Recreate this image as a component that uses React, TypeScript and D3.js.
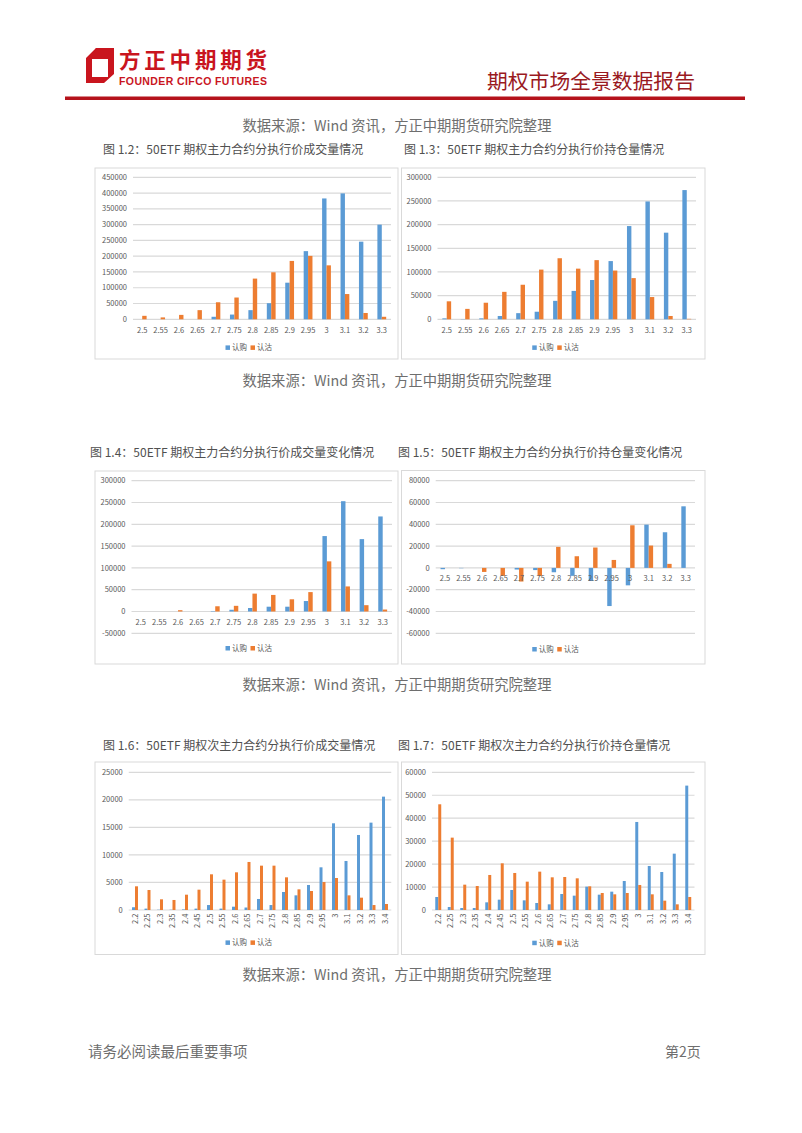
import React from "react";
import * as d3 from "d3";

const strikesMain = ["2.5","2.55","2.6","2.65","2.7","2.75","2.8","2.85","2.9","2.95","3","3.1","3.2","3.3"];
const strikesSub = ["2.2","2.25","2.3","2.35","2.4","2.45","2.5","2.55","2.6","2.65","2.7","2.75","2.8","2.85","2.9","2.95","3","3.1","3.2","3.3","3.4"];

// Fig 1.2 main contract volume
const volMainCall = [0,0,0,0,8000,15000,29000,51000,116000,216000,383000,399000,246000,300000];
const volMainPut = [11000,6000,14000,29000,54000,69000,129000,149000,185000,201000,171000,80000,20000,8000];
// Fig 1.3 main contract open interest
const oiMainCall = [2000,500,2000,7000,13000,16000,39000,60000,83000,123000,197000,249000,183000,273000];
const oiMainPut = [38000,22000,35000,58000,73000,105000,129000,107000,125000,103000,87000,47000,7000,1000];
// Fig 1.4 main contract volume change
const volChgCall = [0,0,0,0,1000,4000,8000,11000,11000,24000,173000,253000,166000,218000];
const volChgPut = [0,0,3000,0,12000,13000,41000,38000,28000,44500,115000,57500,14500,4500];
// Fig 1.5 main contract open interest change
const oiChgCall = [-1200,-300,0,0,-1500,-2000,-4000,-7300,-12000,-35000,-16000,39700,32700,56500];
const oiChgPut = [0,0,-3700,-7300,-12500,-7300,19300,10700,18700,7300,39100,20500,3700,0];
// Fig 1.6 sub-main contract volume
const volSubCall = [500,250,50,50,100,250,900,250,600,450,2000,900,3270,2660,4540,7750,15740,8900,13620,15860,20580];
const volSubPut = [4300,3630,1940,1820,2780,3690,6480,5510,6840,8720,8050,8050,5930,3750,3450,5080,5810,2660,2240,900,1090];
// Fig 1.7 sub-main contract open interest
const oiSubCall = [5670,1300,870,870,3340,4500,8720,4210,3050,2470,6970,6250,10170,6680,7990,12640,38360,19180,16560,24550,54200];
const oiSubPut = [46060,31530,11040,10460,15260,20340,16130,12350,16710,14240,14380,13800,10320,7410,6830,7410,10900,6830,4070,2470,5670];

const ticks1 = [0,50000,100000,150000,200000,250000,300000,350000,400000,450000];
const ticks2 = [0,50000,100000,150000,200000,250000,300000];
const ticks3 = [-50000,0,50000,100000,150000,200000,250000,300000];
const ticks4 = [-60000,-40000,-20000,0,20000,40000,60000,80000];
const ticks5 = [0,5000,10000,15000,20000,25000];
const ticks6 = [0,10000,20000,30000,40000,50000,60000];

const seriesNames = ["认购","认沽"];
const BLUE = "#5b9bd5";
const ORANGE = "#ed7d31";
const FONT = "'Noto Sans CJK SC', 'Noto Sans', sans-serif";

type PanelProps = {
  box: [number, number, number, number];
  plot: [number, number, number, number]; // x0, x1, yTop, yBot
  ticks: number[];
  cats: string[];
  call: number[];
  put: number[];
  rotate?: boolean;
  labelY: number;
  legendY: number;
};

function Panel({ box, plot, ticks, cats, call, put, rotate, labelY, legendY }: PanelProps) {
  const [bx, by, bw, bh] = box;
  const [x0, x1, yTop, yBot] = plot;
  const x = d3.scaleBand<string>().domain(cats).range([x0, x1]);
  const y = d3.scaleLinear().domain([ticks[0], ticks[ticks.length - 1]]).range([yBot, yTop]);
  const step = x.bandwidth();
  const barW = step / (2 + 2.19);
  const y0 = y(0);
  const cx = bx + bw / 2;
  const fs = 7.5;
  return (
    <g>
      <rect x={bx} y={by} width={bw} height={bh} fill="#fff" stroke="#d9d9d9" strokeWidth={1} />
      {ticks.map((t) => (
        <g key={t}>
          <line x1={x0} x2={x1} y1={y(t)} y2={y(t)} stroke="#d9d9d9" strokeWidth={1.2} />
          <text x={x0 - 6} y={y(t) + 2.6} fontSize={fs} textAnchor="end" fill="#595959" fontFamily={FONT}>{t}</text>
        </g>
      ))}
      {cats.map((c, i) => {
        const c0 = (x(c) as number) + step / 2;
        const v1 = call[i], v2 = put[i];
        return (
          <g key={c}>
            <rect x={c0 - barW} y={Math.min(y(v1), y0)} width={barW} height={Math.abs(y(v1) - y0)} fill={BLUE} />
            <rect x={c0} y={Math.min(y(v2), y0)} width={barW} height={Math.abs(y(v2) - y0)} fill={ORANGE} />
            {rotate ? (
              <text transform={`translate(${c0 + 2.6},${labelY}) rotate(-90)`} fontSize={fs} textAnchor="end" fill="#595959" fontFamily={FONT}>{c}</text>
            ) : (
              <text x={c0} y={labelY} fontSize={fs} textAnchor="middle" fill="#595959" fontFamily={FONT}>{c}</text>
            )}
          </g>
        );
      })}
      <g>
        <rect x={cx - 21} y={legendY - 2.3} width={4.5} height={4.5} fill={BLUE} />
        <text x={cx - 14.5} y={legendY + 2.6} fontSize={fs} fill="#595959" fontFamily={FONT}>{seriesNames[0]}</text>
        <rect x={cx + 4} y={legendY - 2.3} width={4.5} height={4.5} fill={ORANGE} />
        <text x={cx + 10.5} y={legendY + 2.6} fontSize={fs} fill="#595959" fontFamily={FONT}>{seriesNames[1]}</text>
      </g>
    </g>
  );
}

const sourceText = "数据来源：Wind 资讯，方正中期期货研究院整理";

export default function App() {
  const titleStyle = { fontSize: 12, fill: "#505050", fontFamily: FONT } as const;
  const srcStyle = { fontSize: 14.3, fill: "#6e6e6e", fontFamily: FONT } as const;
  return (
    <svg width={802} height={1133} style={{ position: "absolute", left: 0, top: 0, background: "#fff" }}>
      <rect x={0} y={0} width={802} height={1133} fill="#fff" />
      {/* header logo */}
      <path d="M86,58 L96,48 L114,48 L114,74 L104,83 L86,83 Z M92,59 L92,77 L108,77 L108,59 Z" fill="#c9151e" fillRule="evenodd" />
      <path d="M96,48 L114,48 L104,58 L92,58 Z" fill="#c9151e" />
      <text x={119} y={68} fontSize={21.5} fontWeight="bold" fill="#c9151e" fontFamily={FONT} textLength={148}>方正中期期货</text>
      <text x={119} y={84.5} fontSize={10.5} fontWeight="bold" fill="#c9151e" fontFamily="'Liberation Sans', Arial, sans-serif" textLength={148}>FOUNDER CIFCO FUTURES</text>
      <text x={487} y={89} fontSize={20.8} fill="#9a1a1f" fontFamily={FONT}>期权市场全景数据报告</text>
      <rect x={65} y={96.5} width={680} height={3.5} fill="#b5121b" />

      <text x={397} y={131} textAnchor="middle" {...srcStyle}>{sourceText}</text>
      <text x={103} y={153.5} {...titleStyle}>图 1.2：50ETF 期权主力合约分执行价成交量情况</text>
      <text x={404} y={153.5} {...titleStyle}>图 1.3：50ETF 期权主力合约分执行价持仓量情况</text>

      <Panel box={[95, 168, 303, 191]} plot={[133, 391, 177.3, 319.3]} ticks={ticks1} cats={strikesMain} call={volMainCall} put={volMainPut} labelY={333} legendY={347.7} />
      <Panel box={[401.5, 168, 303.5, 191]} plot={[437.5, 696, 177.3, 319.3]} ticks={ticks2} cats={strikesMain} call={oiMainCall} put={oiMainPut} labelY={333} legendY={347.7} />

      <text x={397} y={386} textAnchor="middle" {...srcStyle}>{sourceText}</text>
      <text x={90} y={456.5} {...titleStyle}>图 1.4：50ETF 期权主力合约分执行价成交量变化情况</text>
      <text x={398} y={456.5} {...titleStyle}>图 1.5：50ETF 期权主力合约分执行价持仓量变化情况</text>

      <Panel box={[95, 471, 303, 193]} plot={[131.5, 392, 480.7, 633.3]} ticks={ticks3} cats={strikesMain} call={volChgCall} put={volChgPut} labelY={624.5} legendY={648.3} />
      <Panel box={[401.5, 470.5, 303.5, 193.5]} plot={[435.7, 695, 480.7, 633.3]} ticks={ticks4} cats={strikesMain} call={oiChgCall} put={oiChgPut} labelY={581} legendY={649.3} />

      <text x={397} y={690} textAnchor="middle" {...srcStyle}>{sourceText}</text>
      <text x={103} y={749.5} {...titleStyle}>图 1.6：50ETF 期权次主力合约分执行价成交量情况</text>
      <text x={398} y={749.5} {...titleStyle}>图 1.7：50ETF 期权次主力合约分执行价持仓量情况</text>

      <Panel box={[95, 762, 303, 192.5]} plot={[128.75, 391.25, 772.3, 910]} ticks={ticks5} cats={strikesSub} call={volSubCall} put={volSubPut} rotate labelY={913.5} legendY={942.7} />
      <Panel box={[401.5, 762, 303.5, 192.5]} plot={[432, 694.5, 772.3, 910]} ticks={ticks6} cats={strikesSub} call={oiSubCall} put={oiSubPut} rotate labelY={913.5} legendY={943} />

      <text x={397} y={980} textAnchor="middle" {...srcStyle}>{sourceText}</text>

      <text x={88} y={1057} fontSize={14.5} fill="#6e6e6e" fontFamily={FONT}>请务必阅读最后重要事项</text>
      <text x={665} y={1057} fontSize={14} fill="#6e6e6e" fontFamily={FONT}>第2页</text>
    </svg>
  );
}
